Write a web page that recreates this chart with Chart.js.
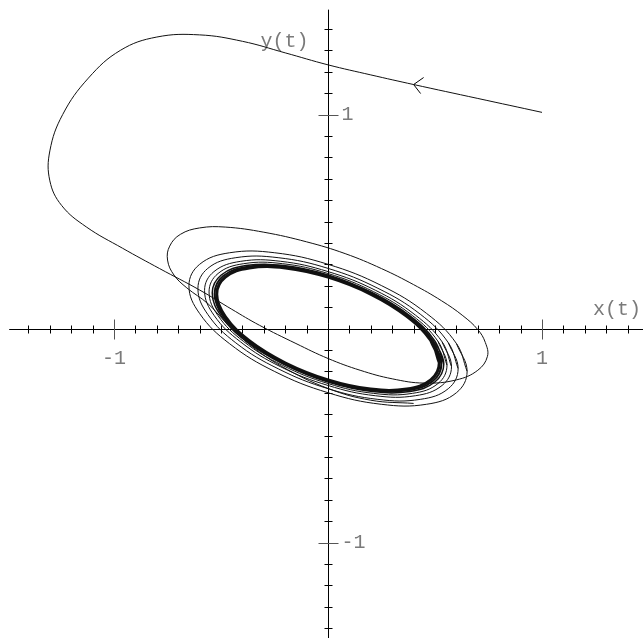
<!DOCTYPE html>
<html>
<head>
<meta charset="utf-8">
<script src="https://cdn.jsdelivr.net/npm/chart.js@4/dist/chart.umd.min.js"></script>
<style>
  html, body { margin: 0; padding: 0; background: #fff; }
  #wrap { width: 643px; height: 638px; }
</style>
</head>
<body>
<div id="wrap"><canvas id="phase" width="643" height="638"></canvas></div>
<script>
// view window in x(t), y(t) units
const xRange = [-1.533, 1.472];
const yRange = [-1.446, 1.535];
const axisStart = { x: -1.49, y: 1.49 };

// tick marks every 0.1, labelled only at +-1
const tickValues = [-1.4, -1.3, -1.2, -1.1, -1, -0.9, -0.8, -0.7, -0.6, -0.5, -0.4, -0.3, -0.2, -0.1,
                    0.1, 0.2, 0.3, 0.4, 0.5, 0.6, 0.7, 0.8, 0.9, 1, 1.1, 1.2, 1.3, 1.4];
const labelledTicks = [-1, 1];
const tickLabels = ['-1', '1'];
const axisTitles = ['x(t)', 'y(t)'];

// trajectory from the start point (1, 1.01) through the first big swing
const approachPath = [
  [1.00, 1.01], [0.70, 1.075], [0.40, 1.14], [0.20, 1.185], [0.00, 1.232], [-0.20, 1.288],
  [-0.40, 1.342], [-0.60, 1.372], [-0.80, 1.362], [-0.97, 1.30], [-1.12, 1.17], [-1.24, 1.00],
  [-1.30, 0.83], [-1.30, 0.69], [-1.245, 0.575], [-1.13, 0.475], [-0.96, 0.375], [-0.787, 0.28],
  [-0.60, 0.18], [-0.45, 0.09], [-0.32, 0.015], [-0.15, -0.07], [0.00, -0.14], [0.15, -0.195],
  [0.30, -0.235], [0.45, -0.255], [0.60, -0.24], [0.70, -0.195], [0.745, -0.13], [0.735, -0.065],
  [0.70, -0.005], [0.63, 0.06], [0.53, 0.13], [0.40, 0.205], [0.25, 0.28], [0.08, 0.35],
  [-0.10, 0.405], [-0.30, 0.45], [-0.48, 0.474], [-0.60, 0.47], [-0.69, 0.44], [-0.74, 0.385],
  [-0.75, 0.32], [-0.72, 0.25], [-0.66, 0.19], [-0.56, 0.115], [-0.47, 0.02], [-0.36, -0.08],
  [-0.22, -0.175], [0.00, -0.28], [0.20, -0.335], [0.40, -0.35]
];
const arrowAt = [0.40, 1.14];

// successive turns of the spiral, outermost first
const turn2 = [
  [0.650, -0.200], [0.600, -0.070], [0.460, 0.071], [0.249, 0.201], [0, 0.300], [-0.249, 0.354],
  [-0.460, 0.354], [-0.600, 0.300], [-0.650, 0.200], [-0.600, 0.070], [-0.460, -0.071], [-0.249, -0.201],
  [0, -0.300], [0.249, -0.354], [0.460, -0.354], [0.600, -0.300], [0.650, -0.200], [0.600, -0.070]
];
const turn3 = [
  [0.608, -0.187], [0.562, -0.066], [0.431, 0.067], [0.233, 0.188], [0, 0.281], [-0.233, 0.331],
  [-0.431, 0.331], [-0.562, 0.281], [-0.608, 0.187], [-0.562, 0.066], [-0.431, -0.067], [-0.233, -0.188],
  [0, -0.281], [0.233, -0.331], [0.431, -0.331], [0.562, -0.281], [0.608, -0.187], [0.562, -0.066]
];
const turn4 = [
  [0.577, -0.178], [0.533, -0.062], [0.408, 0.063], [0.221, 0.179], [0, 0.266], [-0.221, 0.314],
  [-0.408, 0.314], [-0.533, 0.266], [-0.577, 0.178], [-0.533, 0.062], [-0.408, -0.063], [-0.221, -0.179],
  [0, -0.266], [0.221, -0.314], [0.408, -0.314], [0.533, -0.266], [0.577, -0.178], [0.533, -0.062]
];
const turn5 = [
  [0.556, -0.171], [0.514, -0.060], [0.394, 0.061], [0.213, 0.172], [0, 0.257], [-0.213, 0.303],
  [-0.394, 0.303], [-0.514, 0.257], [-0.556, 0.171], [-0.514, 0.060], [-0.394, -0.061], [-0.213, -0.172],
  [0, -0.257], [0.213, -0.303], [0.394, -0.303], [0.514, -0.257], [0.556, -0.171], [0.514, -0.060]
];
const turn6 = [
  [0.541, -0.166], [0.499, -0.058], [0.383, 0.059], [0.207, 0.167], [0, 0.250], [-0.207, 0.294],
  [-0.383, 0.294], [-0.499, 0.250], [-0.541, 0.166], [-0.499, 0.058], [-0.383, -0.059], [-0.207, -0.167],
  [0, -0.250], [0.207, -0.294], [0.383, -0.294], [0.499, -0.250], [0.541, -0.166], [0.499, -0.058]
];
const turn7 = [
  [0.530, -0.163], [0.490, -0.057], [0.375, 0.058], [0.203, 0.164], [0, 0.245], [-0.203, 0.289],
  [-0.375, 0.289], [-0.490, 0.245], [-0.530, 0.163], [-0.490, 0.057], [-0.375, -0.058], [-0.203, -0.164],
  [0, -0.245], [0.203, -0.289], [0.375, -0.289], [0.490, -0.245], [0.530, -0.163], [0.490, -0.057]
];
// the attracting cycle itself
const limitCycle = [
  [0.520, -0.160], [0.480, -0.056], [0.368, 0.057], [0.199, 0.161], [0, 0.240], [-0.199, 0.283],
  [-0.368, 0.283], [-0.480, 0.240], [-0.520, 0.160], [-0.480, 0.056], [-0.368, -0.057], [-0.199, -0.161],
  [0, -0.240], [0.199, -0.283], [0.368, -0.283], [0.480, -0.240], [0.520, -0.160], [0.480, -0.056]
];

const toPoints = arr => arr.map(p => ({ x: p[0], y: p[1] }));

function curve(arr, width) {
  return {
    data: toPoints(arr),
    showLine: true,
    borderColor: '#111',
    borderWidth: width,
    pointRadius: 0,
    tension: 0.4
  };
}

const TEXT_FONT = '20px "Liberation Mono", "Courier New", monospace';
const TEXT_COLOR = '#7a7a7a';

// axes through the origin with tick marks, labels and the direction arrow
const crossAxes = {
  id: 'crossAxes',
  beforeDatasetsDraw(chart) {
    const { ctx, chartArea, scales: { x, y } } = chart;
    const x0 = Math.round(x.getPixelForValue(0)) + 0.5;
    const y0 = Math.round(y.getPixelForValue(0)) + 0.5;
    ctx.save();
    ctx.strokeStyle = '#000';
    ctx.lineWidth = 1;
    ctx.beginPath();
    ctx.moveTo(x.getPixelForValue(axisStart.x), y0);
    ctx.lineTo(chartArea.right, y0);
    ctx.moveTo(x0, y.getPixelForValue(axisStart.y));
    ctx.lineTo(x0, chartArea.bottom);
    ctx.stroke();

    tickValues.forEach(v => {
      const big = labelledTicks.includes(v);
      const len = big ? 10 : 4;
      const px = Math.round(x.getPixelForValue(v)) + 0.5;
      const py = Math.round(y.getPixelForValue(v)) + 0.5;
      ctx.strokeStyle = big ? '#555' : '#000';
      ctx.beginPath();
      ctx.moveTo(px, y0 - len);
      ctx.lineTo(px, y0 + len);
      ctx.moveTo(x0 - len, py);
      ctx.lineTo(x0 + len, py);
      ctx.stroke();
    });

    ctx.font = TEXT_FONT;
    ctx.fillStyle = TEXT_COLOR;
    labelledTicks.forEach((v, i) => {
      ctx.textAlign = 'center';
      ctx.textBaseline = 'top';
      ctx.fillText(tickLabels[i], x.getPixelForValue(v), y0 + 19);
      ctx.textAlign = 'left';
      ctx.textBaseline = 'middle';
      ctx.fillText(tickLabels[i], x0 + 13, y.getPixelForValue(v));
    });
    ctx.textAlign = 'right';
    ctx.textBaseline = 'bottom';
    ctx.fillText(axisTitles[0], chartArea.right - 2, y0 - 10);
    ctx.textAlign = 'right';
    ctx.textBaseline = 'middle';
    ctx.fillText(axisTitles[1], x0 - 20, 42);
    ctx.restore();
  },
  afterDatasetsDraw(chart) {
    const { ctx, scales: { x, y } } = chart;
    const ax = x.getPixelForValue(arrowAt[0]);
    const ay = y.getPixelForValue(arrowAt[1]);
    ctx.save();
    ctx.strokeStyle = '#000';
    ctx.lineWidth = 1;
    ctx.beginPath();
    ctx.moveTo(ax + 10, ay - 7);
    ctx.lineTo(ax, ay);
    ctx.lineTo(ax + 7, ay + 9);
    ctx.stroke();
    ctx.restore();
  }
};

new Chart(document.getElementById('phase'), {
  type: 'scatter',
  data: {
    datasets: [
      curve(approachPath, 1),
      curve(turn2, 1),
      curve(turn3, 1),
      curve(turn4, 1),
      curve(turn5, 1),
      curve(turn6, 1.5),
      curve(turn7, 2),
      curve(limitCycle, 3)
    ]
  },
  options: {
    responsive: false,
    animation: false,
    events: [],
    layout: { padding: 0 },
    plugins: { legend: { display: false }, tooltip: { enabled: false } },
    scales: {
      x: { type: 'linear', min: xRange[0], max: xRange[1], display: false },
      y: { type: 'linear', min: yRange[0], max: yRange[1], display: false }
    }
  },
  plugins: [crossAxes]
});
</script>
</body>
</html>
